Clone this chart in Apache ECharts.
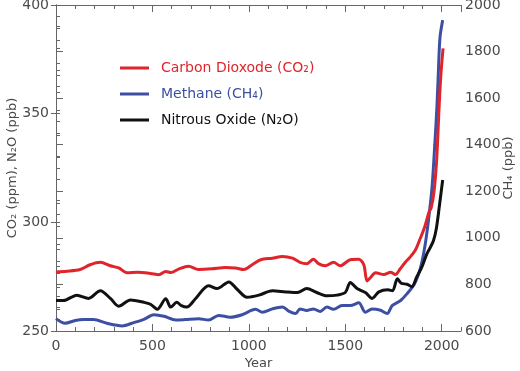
<!DOCTYPE html>
<html><head><meta charset="utf-8">
<script src="https://cdn.jsdelivr.net/npm/echarts@6/dist/echarts.min.js"></script>
<style>html,body{margin:0;padding:0;background:#fff}#c{width:520px;height:371px}</style>
</head><body><div id="c"></div>
<script>
const co2Years = [0,56,125,177,230,282,325,369,421,490,534,569,595,638,687,739,809,878,930,974,1017,1061,1122,1174,1226,1265,1300,1335,1361,1396,1439,1474,1526,1570,1596,1613,1630,1657,1700,1735,1760,1784,1810,1836,1862,1886,1912,1935,1945,1960,1974,1986,1995,2007];
const co2Values = [277.2,277.5,278.3,280.5,281.6,280,279,276.8,277,276.5,275.9,277.4,276.9,278.6,279.8,278.3,278.6,279.2,279,278.3,280.5,282.8,283.5,284.3,283.5,281.6,281,283,281,280,281.6,280,282.8,283,280.5,273,274.5,276.8,276,277,276,278.5,281.5,284,287,292,298,305,306.5,314,329,352,367,380];

const ch4Years = [0,47,100,143,195,264,343,403,456,508,560,621,670,739,791,843,904,965,1035,1070,1122,1174,1209,1243,1265,1300,1335,1370,1404,1439,1483,1526,1570,1604,1639,1683,1717,1743,1787,1822,1857,1880,1897,1915,1932,1950,1964,1975,1983,1991,2005];
const ch4Values = [653,633,645,649,649,633,622,636,650,670,663,647,649,653,647,667,659,670,693,681,695,703,684,675,695,688,695,684,703,693,709,709,721,681,695,689,675,709,731,762,800,845,895,975,1080,1220,1400,1560,1720,1860,1935];

const n2oYears = [0,38,108,169,230,282,325,386,456,490,525,569,595,626,650,678,722,791,835,896,939,991,1052,1122,1191,1252,1300,1352,1404,1457,1500,1526,1561,1604,1639,1674,1720,1745,1770,1790,1820,1845,1871,1895,1923,1940,1957,1972,1990,2005];
const n2oValues = [264,264,266.5,265,268.5,265,261.4,264.3,263.2,262.3,260,264.8,261,263.2,261.7,261,264.7,270.8,269.5,272.6,269.2,265.5,266.5,268.5,268,267.7,269.5,267.7,266.2,266.5,267.7,272.3,269.5,267.7,265,268,269,268.5,274,272,271.5,270.4,275,279,285.5,288.3,291.5,297,309,319.5];

const seriesNames = ['Carbon Dioxode (CO\u2082)', 'Methane (CH\u2084)', 'Nitrous Oxide (N\u2082O)'];
const seriesColors = ['#e0242b', '#3c4fa3', '#111111'];

const pairs = (xs, ys) => xs.map((x, i) => [x, ys[i]]);
const FONT = 'DejaVu Sans';
const axisCol = '#666';
const labCol = '#4a4a4a';

const chart = echarts.init(document.getElementById('c'), null, {renderer: 'canvas'});
const lineAxis = {lineStyle: {color: axisCol, width: 1}};
chart.setOption({
  animation: false,
  backgroundColor: '#fff',
  grid: {left: 56, right: 59, top: 5, bottom: 40, containLabel: false, outerBoundsMode: 'none'},
  legend: {
    orient: 'vertical', left: 115, top: 55, itemWidth: 29, itemHeight: 3, itemGap: 10, icon: 'rect',
    textStyle: {fontSize: 14, fontFamily: FONT, padding: [0, 0, 0, 7], lineHeight: 16},
    data: seriesNames.map((n, i) => ({name: n, icon: 'rect', textStyle: {color: seriesColors[i]}}))
  },
  xAxis: [
    {type: 'value', min: 0, max: 2100, interval: 500, position: 'bottom',
     name: 'Year', nameLocation: 'middle', nameGap: 26, nameMoveOverlap: false,
     nameTextStyle: {fontSize: 13, fontFamily: FONT, color: labCol},
     axisLine: lineAxis, axisTick: {inside: true, length: 7, lineStyle: {color: axisCol}},
     axisLabel: {fontSize: 14, fontFamily: FONT, color: labCol, margin: 8, showMaxLabel: false,
       formatter: v => (v % 500 === 0 ? String(v) : '')},
     splitLine: {show: false}},
    {type: 'value', min: 0, max: 2100, interval: 100, position: 'bottom',
     axisLine: {show: false}, axisTick: {inside: true, length: 4, lineStyle: {color: axisCol}},
     axisLabel: {show: false}, splitLine: {show: false}},
    {type: 'value', min: 0, max: 2100, interval: 500, position: 'top',
     axisLine: lineAxis, axisTick: {inside: true, length: 7, lineStyle: {color: axisCol}},
     axisLabel: {show: false}, splitLine: {show: false}},
    {type: 'value', min: 0, max: 2100, interval: 100, position: 'top',
     axisLine: {show: false}, axisTick: {inside: true, length: 4, lineStyle: {color: axisCol}},
     axisLabel: {show: false}, splitLine: {show: false}}
  ],
  yAxis: [
    {type: 'value', min: 250, max: 400, interval: 50, position: 'left',
     name: 'CO\u2082 (ppm), N\u2082O (ppb)', nameLocation: 'middle', nameGap: 37, nameRotate: 90, nameMoveOverlap: false,
     nameTextStyle: {fontSize: 13, fontFamily: FONT, color: labCol},
     axisLine: {show: true, lineStyle: {color: axisCol}},
     axisTick: {inside: false, length: 5, lineStyle: {color: axisCol}},
     axisLabel: {fontSize: 14, fontFamily: FONT, color: labCol, margin: 7},
     splitLine: {show: false}},
    {type: 'value', min: 600, max: 2000, interval: 200, position: 'right',
     name: 'CH\u2084 (ppb)', nameLocation: 'middle', nameGap: 41, nameRotate: 90, nameMoveOverlap: false,
     nameTextStyle: {fontSize: 13, fontFamily: FONT, color: labCol},
     axisLine: {show: true, lineStyle: {color: axisCol}},
     axisTick: {inside: false, length: 7, lineStyle: {color: axisCol}},
     minorTick: {show: true, splitNumber: 4, length: 4, lineStyle: {color: axisCol}},
     axisLabel: {fontSize: 14, fontFamily: FONT, color: labCol, margin: 4, formatter: v => String(v)},
     splitLine: {show: false}},
    {type: 'value', min: 250, max: 400, interval: 10, position: 'left',
     axisLine: {show: false}, axisTick: {inside: true, length: 4, lineStyle: {color: axisCol}},
     axisLabel: {show: false}, splitLine: {show: false}}
  ],
  series: [
    {name: seriesNames[0], type: 'line', xAxisIndex: 0, yAxisIndex: 0, data: pairs(co2Years, co2Values),
     symbol: 'none', smooth: 0.3, lineStyle: {color: seriesColors[0], width: 3}, itemStyle: {color: seriesColors[0]}, z: 3},
    {name: seriesNames[1], type: 'line', xAxisIndex: 0, yAxisIndex: 1, data: pairs(ch4Years, ch4Values),
     symbol: 'none', smooth: 0.3, lineStyle: {color: seriesColors[1], width: 3}, itemStyle: {color: seriesColors[1]}, z: 2},
    {name: seriesNames[2], type: 'line', xAxisIndex: 0, yAxisIndex: 0, data: pairs(n2oYears, n2oValues),
     symbol: 'none', smooth: 0.3, lineStyle: {color: seriesColors[2], width: 3}, itemStyle: {color: seriesColors[2]}, z: 4}
  ]
});
</script>
</body></html>
